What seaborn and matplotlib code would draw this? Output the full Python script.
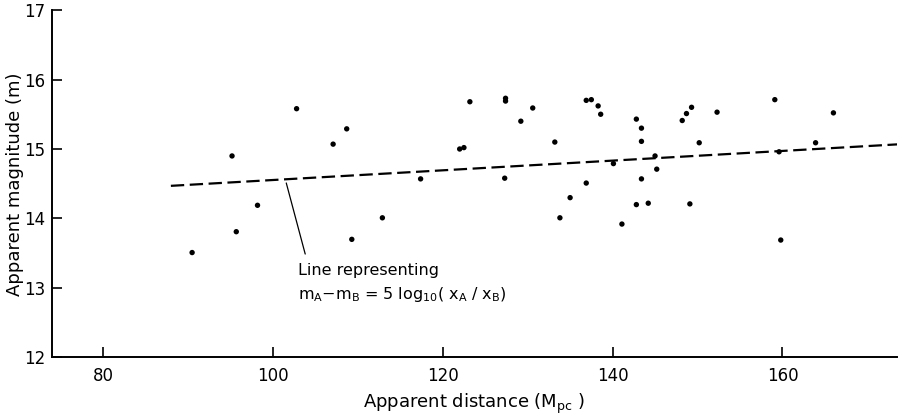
import matplotlib
matplotlib.use("Agg")
import matplotlib.pyplot as plt
import numpy as np
import pandas as pd
import seaborn as sns

# apparent distance (Mpc) and apparent magnitude
distance = [90.5, 95.2, 95.7, 98.2, 102.8, 107.1, 108.7, 109.3, 112.9, 117.4,
            122.0, 122.5, 123.2, 127.4, 127.4, 127.3, 129.2, 130.6, 133.2, 133.8,
            135.0, 136.9, 136.9, 137.5, 138.3, 138.6, 140.1, 141.1, 142.8, 143.4,
            143.4, 143.4, 142.8, 144.2, 145.0, 145.2, 148.2, 148.7, 149.3, 150.2,
            149.1, 152.3, 159.1, 159.6, 159.8, 163.9, 166.0]
magnitude = [13.51, 14.90, 13.81, 14.19, 15.58, 15.07, 15.29, 13.70, 14.01, 14.57,
             15.00, 15.02, 15.68, 15.69, 15.73, 14.58, 15.40, 15.59, 15.10, 14.01,
             14.30, 14.51, 15.70, 15.71, 15.62, 15.50, 14.79, 13.92, 15.43, 15.30,
             15.11, 14.57, 14.20, 14.22, 14.90, 14.71, 15.41, 15.51, 15.60, 15.09,
             14.21, 15.53, 15.71, 14.96, 13.69, 15.09, 15.52]

# dashed reference line
line_x = [88.0, 174.0]
line_y = [14.47, 15.07]

x_ticks = [80, 100, 120, 140, 160]
y_ticks = [12, 13, 14, 15, 16, 17]

pts = pd.DataFrame({"x": distance, "y": magnitude})
ref = pd.DataFrame({"x": line_x, "y": line_y})

sns.set_style("ticks")
plt.rcParams["font.family"] = ["DejaVu Sans"]
for key in ["text.color", "axes.labelcolor", "xtick.color", "ytick.color",
            "axes.edgecolor"]:
    plt.rcParams[key] = "black"

fig = plt.figure(figsize=(9.02, 4.17), dpi=100)
ax = fig.add_axes([0.0576, 0.1427, 0.937, 0.8333])

sns.scatterplot(data=pts, x="x", y="y", ax=ax, color="black", s=15,
                edgecolor="none", legend=False)
sns.lineplot(data=ref, x="x", y="y", ax=ax, color="black", lw=1.6,
             linestyle=(0, (6, 2.5)), legend=False)

ax.annotate("", xy=(101.5, 14.55), xytext=(103.9, 13.45),
            arrowprops=dict(arrowstyle="-", color="black", lw=0.9))
ax.text(103.0, 13.36, "Line representing\n"
        r"m$_{\rm A}$$-$m$_{\rm B}$ = 5 log$_{10}$( x$_{\rm A}$ / x$_{\rm B}$)",
        fontsize=11.5, va="top", ha="left", linespacing=1.5)

ax.set_xlim(74, 173.5)
ax.set_ylim(12, 17)
ax.set_xticks(x_ticks)
ax.set_yticks(y_ticks)
ax.tick_params(direction="in", length=7, width=1.2, labelsize=12)
ax.tick_params(axis="x", pad=7)
ax.tick_params(axis="y", pad=5)
for s in ["left", "bottom"]:
    ax.spines[s].set_linewidth(1.4)
sns.despine(ax=ax)

ax.set_xlabel(r"Apparent distance (M$_{\rm pc}$ )", fontsize=13, labelpad=5)
ax.set_ylabel("Apparent magnitude (m)", fontsize=13, labelpad=0)

fig.savefig("out.png", dpi=100)
